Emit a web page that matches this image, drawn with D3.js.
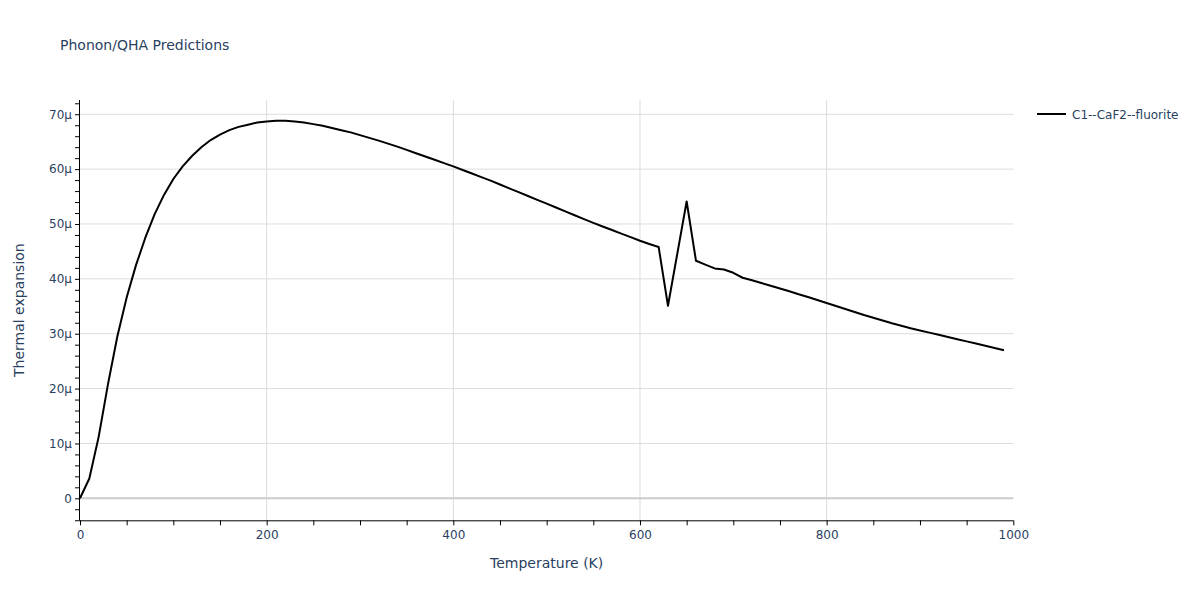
<!DOCTYPE html>
<html>
<head>
<meta charset="utf-8">
<script src="https://cdn.jsdelivr.net/npm/d3@7"></script>
<style>
  html, body { margin: 0; padding: 0; background: #fff; }
  svg { display: block; font-family: "DejaVu Sans", Verdana, sans-serif; }
</style>
</head>
<body>
<svg id="chart" width="1200" height="600"></svg>
<script>
// ---- data ----
const temperatures = [
  0,10,20,30,40,50,60,70,80,90,
  100,110,120,130,140,150,160,170,180,190,
  200,210,220,230,240,250,260,270,280,290,
  300,310,320,330,340,350,360,370,380,390,
  400,410,420,430,440,450,460,470,480,490,
  500,510,520,530,540,550,560,570,580,590,
  600,610,620,630,650,660,670,680,690,
  700,710,720,730,740,750,760,770,780,790,
  800,810,820,830,840,850,860,870,880,890,
  900,910,920,930,940,950,960,970,980,990
];
// thermal expansion in units of 1e-6 (μ)
const expansion = [
  0,3.6,11.2,20.8,29.5,36.6,42.5,47.5,51.8,55.3,
  58.2,60.5,62.4,64.0,65.3,66.3,67.1,67.7,68.1,68.5,
  68.7,68.8,68.8,68.7,68.5,68.2,67.9,67.5,67.1,66.7,
  66.2,65.7,65.2,64.65,64.1,63.5,62.9,62.3,61.7,61.1,
  60.5,59.85,59.2,58.55,57.9,57.2,56.5,55.8,55.1,54.4,
  53.7,53.0,52.3,51.6,50.9,50.2,49.55,48.9,48.25,47.6,
  46.95,46.35,45.8,35.1,54.1,43.3,42.6,41.9,41.7,
  41.1,40.2,39.75,39.25,38.75,38.25,37.75,37.2,36.7,36.15,
  35.6,35.05,34.5,33.95,33.4,32.9,32.4,31.9,31.45,31.0,
  30.6,30.2,29.8,29.4,29.0,28.6,28.2,27.8,27.4,27.0
];
const seriesName = "C1--CaF2--fluorite";
const xTickValues = [0,200,400,600,800,1000];
const xTickLabels = ["0","200","400","600","800","1000"];
const yTickValues = [0,10,20,30,40,50,60,70];
const yTickLabels = ["0","10μ","20μ","30μ","40μ","50μ","60μ","70μ"];
const titleText = "Phonon/QHA Predictions";
const xTitle = "Temperature (K)";
const yTitle = "Thermal expansion";

// ---- layout ----
const pLeft = 80, pRight = 1013.3, pTop = 100, pBottom = 520.3;
const textColor = "#2a3f5f";
const svg = d3.select("#chart");

const x = d3.scaleLinear().domain([0, 1000]).range([pLeft, pRight]);
const y = d3.scaleLinear().domain([-4.01, 72.6]).range([pBottom, pTop]);

// gridlines
const grid = svg.append("g");
grid.selectAll("line.gx").data(xTickValues.filter(v => v > 0 && v < 1000)).enter()
  .append("line").attr("x1", d => x(d)).attr("x2", d => x(d))
  .attr("y1", pTop).attr("y2", pBottom)
  .attr("stroke", "#dcdcdc").attr("stroke-width", 1);
grid.selectAll("line.gy").data(yTickValues.filter(v => v !== 0)).enter()
  .append("line").attr("x1", pLeft).attr("x2", pRight)
  .attr("y1", d => y(d)).attr("y2", d => y(d))
  .attr("stroke", "#dcdcdc").attr("stroke-width", 1);
// zero line
svg.append("line").attr("x1", pLeft).attr("x2", pRight)
  .attr("y1", y(0)).attr("y2", y(0))
  .attr("stroke", "#cccccc").attr("stroke-width", 2);

// minor ticks
const xMinor = d3.range(0, 1001, 50);
const yMinor = d3.range(-4, 73, 2);

const xAxis = d3.axisBottom(x).tickValues(xMinor).tickSize(5)
  .tickFormat(d => { const i = xTickValues.indexOf(d); return i >= 0 ? xTickLabels[i] : ""; });
const gx = svg.append("g").attr("transform", `translate(0,${pBottom})`).call(xAxis);
gx.select(".domain").attr("stroke", "#000").attr("d", `M${pLeft},0.5H${pRight}`);
gx.selectAll(".tick line").attr("stroke", "#000");
gx.selectAll(".tick text").attr("fill", textColor).style("font-size", "12px")
  .style("font-family", "DejaVu Sans, Verdana, sans-serif").attr("dy", "1.05em").attr("y", 6);

const yAxis = d3.axisLeft(y).tickValues(yMinor).tickSize(5)
  .tickFormat(d => { const i = yTickValues.indexOf(d); return i >= 0 ? yTickLabels[i] : ""; });
const gy = svg.append("g").attr("transform", `translate(${pLeft},0)`).call(yAxis);
gy.select(".domain").attr("stroke", "#000").attr("d", `M-0.5,${pTop}V${pBottom}`);
gy.selectAll(".tick line").attr("stroke", "#000");
gy.selectAll(".tick text").attr("fill", textColor).style("font-size", "12px")
  .style("font-family", "DejaVu Sans, Verdana, sans-serif").attr("x", -8);

// line
const pts = temperatures.map((t, i) => [t, expansion[i]]);
const line = d3.line().x(d => x(d[0])).y(d => y(d[1]));
svg.append("path").datum(pts).attr("d", line)
  .attr("fill", "none").attr("stroke", "#000").attr("stroke-width", 2)
  .attr("stroke-linejoin", "round");

// title
svg.append("text").attr("x", 60).attr("y", 50).text(titleText)
  .attr("fill", textColor).style("font-size", "14px");
// axis titles
svg.append("text").attr("x", (pLeft + pRight) / 2).attr("y", 568).attr("text-anchor", "middle")
  .text(xTitle).attr("fill", textColor).style("font-size", "14px");
svg.append("text").attr("transform", `translate(24,${(pTop + pBottom) / 2}) rotate(-90)`)
  .attr("text-anchor", "middle").text(yTitle).attr("fill", textColor).style("font-size", "14px");

// legend
svg.append("line").attr("x1", 1037).attr("x2", 1066).attr("y1", 114).attr("y2", 114)
  .attr("stroke", "#000").attr("stroke-width", 2);
svg.append("text").attr("x", 1072).attr("y", 118.5).text(seriesName)
  .attr("fill", textColor).style("font-size", "12px");
</script>
</body>
</html>
